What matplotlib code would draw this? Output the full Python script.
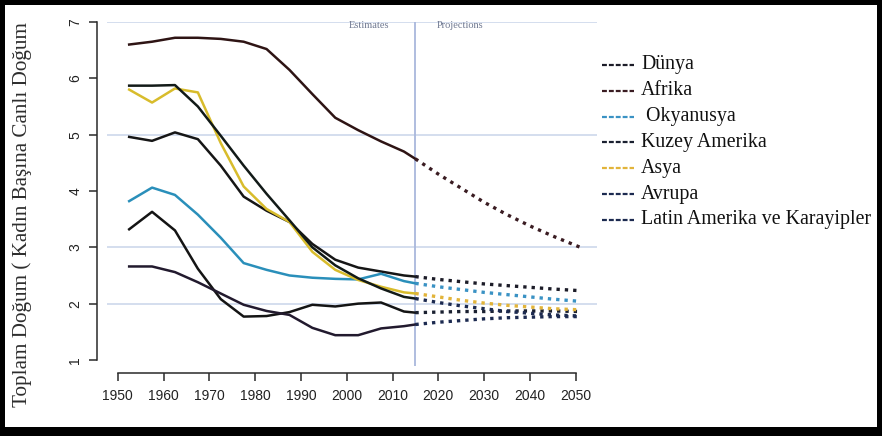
import matplotlib
matplotlib.use("Agg")
import matplotlib.pyplot as plt
from matplotlib.lines import Line2D
from matplotlib.patches import Rectangle

# Total fertility rate by region: estimates (1950-2015) and projections (2015-2050)
est_years = [1952.5, 1957.5, 1962.5, 1967.5, 1972.5, 1977.5, 1982.5,
             1987.5, 1992.5, 1997.5, 2002.5, 2007.5, 2012.5, 2015]
proj_years = [2015, 2020, 2025, 2030, 2035, 2040, 2045, 2051]

regions = ["Dünya", "Afrika", " Okyanusya", "Kuzey Amerika", "Asya",
           "Avrupa", "Latin Amerika ve Karayipler"]

dunya_est = [4.96, 4.89, 5.04, 4.92, 4.45, 3.90, 3.65, 3.45, 3.06, 2.78, 2.64, 2.57, 2.50, 2.48]
afrika_est = [6.60, 6.65, 6.72, 6.72, 6.70, 6.65, 6.52, 6.15, 5.72, 5.30, 5.08, 4.88, 4.70, 4.57]
okyanusya_est = [3.82, 4.06, 3.93, 3.58, 3.17, 2.72, 2.60, 2.50, 2.46, 2.44, 2.43, 2.53, 2.40, 2.36]
kuzey_est = [3.32, 3.63, 3.30, 2.62, 2.08, 1.77, 1.78, 1.85, 1.98, 1.95, 2.00, 2.02, 1.86, 1.84]
asya_est = [5.80, 5.57, 5.82, 5.75, 4.85, 4.08, 3.68, 3.45, 2.92, 2.60, 2.42, 2.30, 2.20, 2.18]
avrupa_est = [2.66, 2.66, 2.56, 2.38, 2.18, 1.98, 1.87, 1.80, 1.57, 1.44, 1.44, 1.56, 1.60, 1.63]
latin_est = [5.87, 5.87, 5.88, 5.50, 4.98, 4.45, 3.95, 3.48, 3.00, 2.68, 2.45, 2.27, 2.12, 2.09]

dunya_proj = [2.48, 2.43, 2.39, 2.35, 2.32, 2.29, 2.26, 2.23]
afrika_proj = [4.57, 4.30, 4.05, 3.80, 3.58, 3.38, 3.20, 3.00]
okyanusya_proj = [2.36, 2.30, 2.25, 2.20, 2.16, 2.12, 2.08, 2.04]
kuzey_proj = [1.84, 1.85, 1.86, 1.86, 1.87, 1.87, 1.87, 1.86]
asya_proj = [2.18, 2.12, 2.06, 2.01, 1.97, 1.94, 1.91, 1.89]
avrupa_proj = [1.63, 1.67, 1.70, 1.73, 1.75, 1.76, 1.77, 1.77]
latin_proj = [2.09, 2.02, 1.96, 1.91, 1.86, 1.83, 1.80, 1.78]

x_ticks = [1950, 1960, 1970, 1980, 1990, 2000, 2010, 2020, 2030, 2040, 2050]
y_ticks = [1, 2, 3, 4, 5, 6, 7]
grid_levels = [2, 3, 5, 7]

series = [
    (dunya_est, dunya_proj, "#161616", "#1c1c28"),
    (afrika_est, afrika_proj, "#2e1414", "#3a1c22"),
    (okyanusya_est, okyanusya_proj, "#2a8fba", "#3a92c4"),
    (kuzey_est, kuzey_proj, "#141414", "#1a2030"),
    (asya_est, asya_proj, "#d8bc2c", "#e2b43a"),
    (avrupa_est, avrupa_proj, "#221a2e", "#1c2a50"),
    (latin_est, latin_proj, "#121a18", "#1c2a50"),
]

W, H = 882, 436
fig = plt.figure(figsize=(W / 100, H / 100), dpi=100)
fig.patch.set_facecolor("white")

ax = fig.add_axes([107 / W, 1 - 365.6 / H, 490 / W, (365.6 - 22) / H])
ax.set_xlim(1947.66, 2054.65)
ax.set_ylim(0.9, 7.0)

# light reference lines
for g in grid_levels:
    ax.axhline(g, color="#c9d5ea", lw=1.1, zorder=1)
ax.axvline(2015, color="#a9b8dc", lw=1.3, zorder=1)

ax.text(2004.9, 6.93, "Estimates", ha="center", va="center", fontsize=7.5,
        family="Liberation Serif", color="#6f7890")
ax.text(2024.7, 6.93, "Projections", ha="center", va="center", fontsize=7.5,
        family="Liberation Serif", color="#6f7890")

for est, proj, c_est, c_proj in series:
    ax.plot(est_years, est, color=c_est, lw=1.8, solid_joinstyle="round", zorder=3)
    ax.plot(proj_years, proj, color=c_proj, lw=2.4, linestyle=(0, (1, 1.5)),
            dash_capstyle="butt", zorder=3)

for side in ("top", "right"):
    ax.spines[side].set_visible(False)
ax.spines["left"].set_position(("outward", 7.2))
ax.spines["bottom"].set_position(("outward", 5.3))
ax.spines["left"].set_bounds(1, 7)
ax.spines["bottom"].set_bounds(1950, 2050)
for side in ("left", "bottom"):
    ax.spines[side].set_linewidth(1.1)
    ax.spines[side].set_color("#2a2a2a")

ax.set_xticks(x_ticks)
ax.set_yticks(y_ticks)
ax.tick_params(axis="both", direction="out", length=5.5, width=1.1,
               color="#2a2a2a", labelsize=10, labelcolor="#222222")
ax.tick_params(axis="x", pad=6)
ax.tick_params(axis="y", pad=5, labelrotation=90)
for lab in ax.get_yticklabels():
    lab.set_va("center")
for lab in ax.get_xticklabels() + ax.get_yticklabels():
    lab.set_family("Liberation Sans")

fig.text(22 / W, 1 - 214 / H, "Toplam Doğum ( Kadın Başına Canlı Doğum",
         rotation=90, ha="center", va="center", fontsize=15.2,
         family="Liberation Serif", color="#2e2e2e")

# legend drawn as short dashed samples with serif labels
leg_top = 65
leg_step = 25.8
for i, (name, (est, proj, c_est, c_proj)) in enumerate(zip(regions, series)):
    yy = 1 - (leg_top + i * leg_step) / H
    fig.add_artist(Line2D([602 / W, 634 / W], [yy, yy], transform=fig.transFigure,
                          color=c_proj, lw=1.6, linestyle=(0, (2.2, 0.9))))
    fig.text(641 / W, yy, name, ha="left", va="center", fontsize=14.3,
             family="Liberation Serif", color="#111111")

# black frame around the figure
for x0, y0, w, h in [(0, 0, W, 9), (0, H - 5, W, 5), (0, 0, 5, H), (W - 5, 0, 5, H)]:
    fig.patches.append(Rectangle((x0 / W, y0 / H), w / W, h / H, transform=fig.transFigure,
                                 facecolor="black", edgecolor="none", zorder=10))

fig.savefig("out.png", dpi=100, facecolor="white")
